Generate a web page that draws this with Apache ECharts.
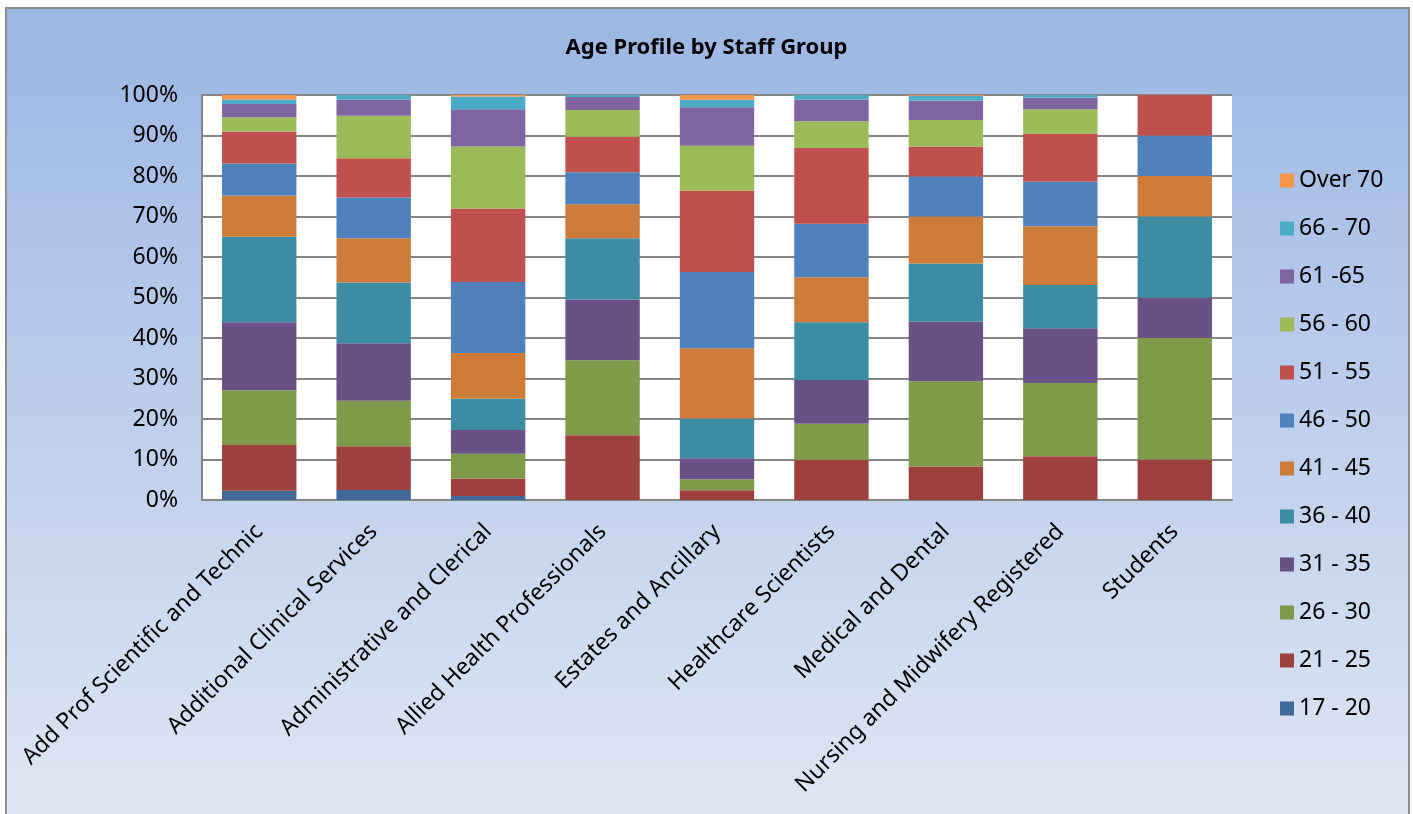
<!DOCTYPE html>
<html>
<head>
<meta charset="utf-8">
<script src="https://cdn.jsdelivr.net/npm/echarts@6/dist/echarts.min.js"></script>
<style>
html,body{margin:0;padding:0;background:#fff;}
#chart{width:1413px;height:814px;}
</style>
</head>
<body>
<div id="chart"></div>
<script>
const categories = ['Add Prof Scientific and Technic','Additional Clinical Services','Administrative and Clerical','Allied Health Professionals','Estates and Ancillary','Healthcare Scientists','Medical and Dental','Nursing and Midwifery Registered','Students'];
const ageBands = ['17 - 20','21 - 25','26 - 30','31 - 35','36 - 40','41 - 45','46 - 50','51 - 55','56 - 60','61 -65','66 - 70','Over 70'];
const colors = ['#3F689B','#9E413E','#7F9A48','#695185','#3C8DA3','#CC7B38','#4F81BD','#C0504D','#9BBB59','#8064A2','#4BACC6','#F79646'];
// percentages per age band, one value per staff group
const v17_20  = [2.3, 2.5, 1.0, 0.0, 0.0, 0.0, 0.0, 0.0, 0];
const v21_25  = [11.3,10.8, 4.3,16.0, 2.4, 9.9, 8.3,10.8,10];
const v26_30  = [13.5,11.2, 6.1,18.5, 2.7, 8.9,21.0,18.1,30];
const v31_35  = [16.8,14.2, 5.9,15.0, 5.2,10.8,14.8,13.5,10];
const v36_40  = [21.1,15.0, 7.7,15.1, 9.8,14.3,14.3,10.7,20];
const v41_45  = [10.2,10.9,11.3, 8.4,17.4,11.1,11.6,14.5,10];
const v46_50  = [ 7.9,10.1,17.5, 7.9,18.8,13.2, 9.9,11.0,10];
const v51_55  = [ 7.9, 9.7,18.2, 8.8,20.1,18.7, 7.4,11.9,10];
const v56_60  = [ 3.5,10.5,15.3, 6.6,11.1, 6.6, 6.5, 6.0, 0];
const v61_65  = [ 3.3, 3.9, 9.2, 3.2, 9.5, 5.4, 4.8, 2.8, 0];
const v66_70  = [ 1.1, 1.2, 3.1, 0.5, 1.8, 1.1, 1.2, 0.7, 0];
const vOver70 = [ 1.1, 0.0, 0.4, 0.0, 1.2, 0.0, 0.2, 0.0, 0];
const bandValues = [v17_20,v21_25,v26_30,v31_35,v36_40,v41_45,v46_50,v51_55,v56_60,v61_65,v66_70,vOver70];
const yTicks = [0,10,20,30,40,50,60,70,80,90,100];

const FONT = 'Noto Sans';
const chart = echarts.init(document.getElementById('chart'), null, {renderer:'canvas'});
const series = ageBands.map((name,i)=>({
  name: name,
  type: 'bar',
  stack: 'total',
  barCategoryGap: '35%',
  itemStyle: {color: colors[i]},
  data: bandValues[i]
}));
chart.setOption({
  animation: false,
  textStyle: {fontFamily: FONT},
  graphic: [{
    type: 'rect', z: -100, silent: true,
    shape: {x: 6, y: 8, width: 1403, height: 820},
    style: {
      fill: new echarts.graphic.LinearGradient(0,0,0,1,[{offset:0,color:'#9BB6E3'},{offset:1,color:'#E0E7F4'}]),
      stroke: '#8C8C8C', lineWidth: 2
    }
  }],
  title: {
    text: 'Age Profile by Staff Group',
    left: 'center', top: 32,
    textStyle: {fontFamily: FONT, fontWeight: 'bold', fontSize: 22, color: '#000'}
  },
  legend: {
    orient: 'vertical',
    left: 1275, top: 164,
    data: ageBands.slice().reverse(),
    itemWidth: 14, itemHeight: 14, itemGap: 25,
    icon: 'rect',
    textStyle: {fontFamily: FONT, fontSize: 23, color: '#000', lineHeight: 23}
  },
  grid: {
    left: 202, right: 181, top: 95, bottom: 314,
    show: true, backgroundColor: '#FFFFFF', borderWidth: 0
  },
  xAxis: {
    type: 'category',
    data: categories,
    axisLine: {show: true, lineStyle: {color: '#868686', width: 2}},
    axisTick: {show: false},
    axisLabel: {rotate: 45, fontSize: 23, color: '#000', margin: 28, fontFamily: FONT, interval: 0}
  },
  yAxis: {
    type: 'value',
    min: yTicks[0], max: yTicks[yTicks.length-1], interval: 10,
    axisLine: {show: true, lineStyle: {color: '#868686', width: 2}},
    axisTick: {show: false},
    splitLine: {show: true, lineStyle: {color: '#868686', width: 2}},
    axisLabel: {formatter: '{value}%', fontSize: 23, color: '#000', margin: 24, fontFamily: FONT}
  },
  series: series
});
</script>
</body>
</html>
